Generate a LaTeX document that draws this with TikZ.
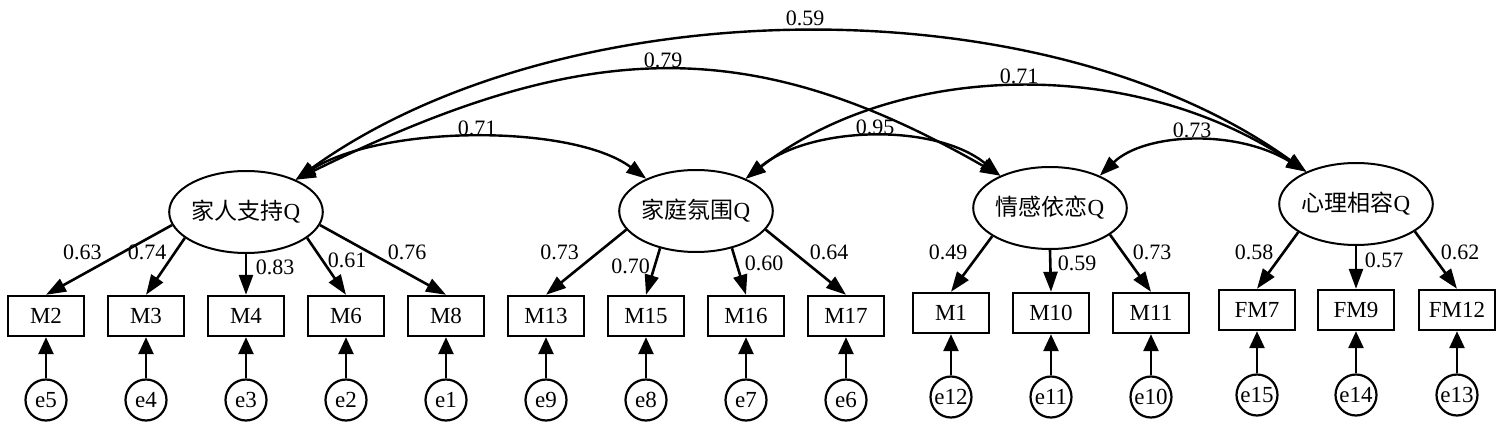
\documentclass[tikz,border=0pt]{standalone}
\usepackage{fontspec}
\setmainfont{Liberation Serif}
\newfontfamily\cjk{Noto Sans CJK SC}
\usetikzlibrary{arrows.meta,shapes.geometric}
\begin{document}
\begin{tikzpicture}[x=0.5pt,y=-0.5pt,
 lat/.style={ellipse,draw,line width=1pt,minimum width=76.5pt,minimum height=41pt,inner sep=0pt,font=\fontsize{11.5}{12}\selectfont},
 obs/.style={rectangle,draw,line width=1.2pt,minimum width=38pt,minimum height=20pt,inner sep=0pt,font=\fontsize{11.5}{12}\selectfont},
 err/.style={circle,draw,line width=1.1pt,minimum size=20.5pt,inner sep=0pt,font=\fontsize{11.5}{12}\selectfont},
 arr/.style={line width=1.3pt,-{Triangle[length=10pt,width=7pt]}},
 earr/.style={line width=1.3pt,-{Triangle[length=8.5pt,width=7.5pt]}},
 cov/.style={line width=1.2pt,{Triangle[length=10pt,width=7pt]}-{Triangle[length=10pt,width=7pt]}},
 lbl/.style={inner sep=0pt,font=\fontsize{11}{12}\selectfont}]
\useasboundingbox (0,0) rectangle (1496,433);
% latent factors
\node[lat] (F1) at (246,212) {{\cjk 家人支持}Q};
\node[lat] (F2) at (696,211) {{\cjk 家庭氛围}Q};
\node[lat] (F3) at (1050,208) {{\cjk 情感依恋}Q};
\node[lat] (F4) at (1356,204) {{\cjk 心理相容}Q};
% observed
\node[obs] (M2) at (46,316) {M2};
\node[obs] (M3) at (146,316) {M3};
\node[obs] (M4) at (246,316) {M4};
\node[obs] (M6) at (346,316) {M6};
\node[obs] (M8) at (446,316) {M8};
\node[obs] (M13) at (546,316) {M13};
\node[obs] (M15) at (646,316) {M15};
\node[obs] (M16) at (746,316) {M16};
\node[obs] (M17) at (846,316) {M17};
\node[obs] (M1) at (951,313) {M1};
\node[obs] (M10) at (1051,313) {M10};
\node[obs] (M11) at (1151,313) {M11};
\node[obs] (FM7) at (1257,310) {FM7};
\node[obs] (FM9) at (1356,310) {FM9};
\node[obs] (FM12) at (1457,310) {FM12};
% errors
\node[err] (e5) at (46,400) {e5};
\node[err] (e4) at (146,400) {e4};
\node[err] (e3) at (246,400) {e3};
\node[err] (e2) at (346,400) {e2};
\node[err] (e1) at (446,400) {e1};
\node[err] (e9) at (546,400) {e9};
\node[err] (e8) at (646,400) {e8};
\node[err] (e7) at (746,400) {e7};
\node[err] (e6) at (846,400) {e6};
\node[err] (e12) at (951,397) {e12};
\node[err] (e11) at (1051,397) {e11};
\node[err] (e10) at (1151,397) {e10};
\node[err] (e15) at (1257,395) {e15};
\node[err] (e14) at (1356,395) {e14};
\node[err] (e13) at (1457,395) {e13};
% loadings
\draw[arr] (F1.190) -- (M2.north);
\draw[arr] (F1.203) -- (M3.north);
\draw[arr] (F1.270) -- (M4.north);
\draw[arr] (F1.337) -- (M6.north);
\draw[arr] (F1.350) -- (M8.north);
\draw[arr] (F2.195) -- (M13.north);
\draw[arr] (F2.226) -- (M15.north);
\draw[arr] (F2.314) -- (M16.north);
\draw[arr] (F2.345) -- (M17.north);
\draw[arr] (F3.206) -- (M1.north);
\draw[arr] (F3.270) -- (M10.north);
\draw[arr] (F3.336) -- (M11.north);
\draw[arr] (F4.206) -- (FM7.north);
\draw[arr] (F4.270) -- (FM9.north);
\draw[arr] (F4.335) -- (FM12.north);
% error arrows
\foreach \e/\m in {e5/M2,e4/M3,e3/M4,e2/M6,e1/M8,e9/M13,e8/M15,e7/M16,e6/M17,e12/M1,e11/M10,e10/M11,e15/FM7,e14/FM9,e13/FM12}
  \draw[earr] (\e.north) -- (\m.south);
% loading labels
\node[lbl] (l1) at (82.5,252) {0.63};
\node[lbl] (l2) at (147,252) {0.74};
\node[lbl] (l3) at (275,267) {0.83};
\node[lbl] (l4) at (347,260) {0.61};
\node[lbl] (l5) at (407,252) {0.76};
\node[lbl] (l6) at (559.5,252) {0.73};
\node[lbl] (l7) at (630.5,266) {0.70};
\node[lbl] (l8) at (764,263) {0.60};
\node[lbl] (l9) at (829,252) {0.64};
\node[lbl] (l10) at (948,252) {0.49};
\node[lbl] (l11) at (1077,263) {0.59};
\node[lbl] (l12) at (1152,252) {0.73};
\node[lbl] (l13) at (1254,252) {0.58};
\node[lbl] (l14) at (1384,260) {0.57};
\node[lbl] (l15) at (1460,252) {0.62};
% covariances
\draw[cov] (F1.33) .. controls +(265,-191) and +(-265,-191) .. (F4.147);
\draw[cov] (F1.33) .. controls +(290,-143) and +(-250,-143) .. (F3.147);
\draw[cov] (F2.33) .. controls +(150,-117) and +(-175,-117) .. (F4.147);
\draw[cov] (F1.33) .. controls +(86,-55) and +(-74,-55) .. (F2.147);
\draw[cov] (F2.33) .. controls +(65,-53) and +(-65,-53) .. (F3.147);
\draw[cov] (F3.33) .. controls +(45,-43) and +(-70,-43) .. (F4.147);
\node[lbl] (c1) at (805,18) {0.59};
\node[lbl] (c2) at (663,60) {0.79};
\node[lbl] (c3) at (1019,76) {0.71};
\node[lbl] (c4) at (477,128) {0.71};
\node[lbl] (c5) at (875,127) {0.95};
\node[lbl] (c6) at (1192,130) {0.73};
\end{tikzpicture}
\end{document}
